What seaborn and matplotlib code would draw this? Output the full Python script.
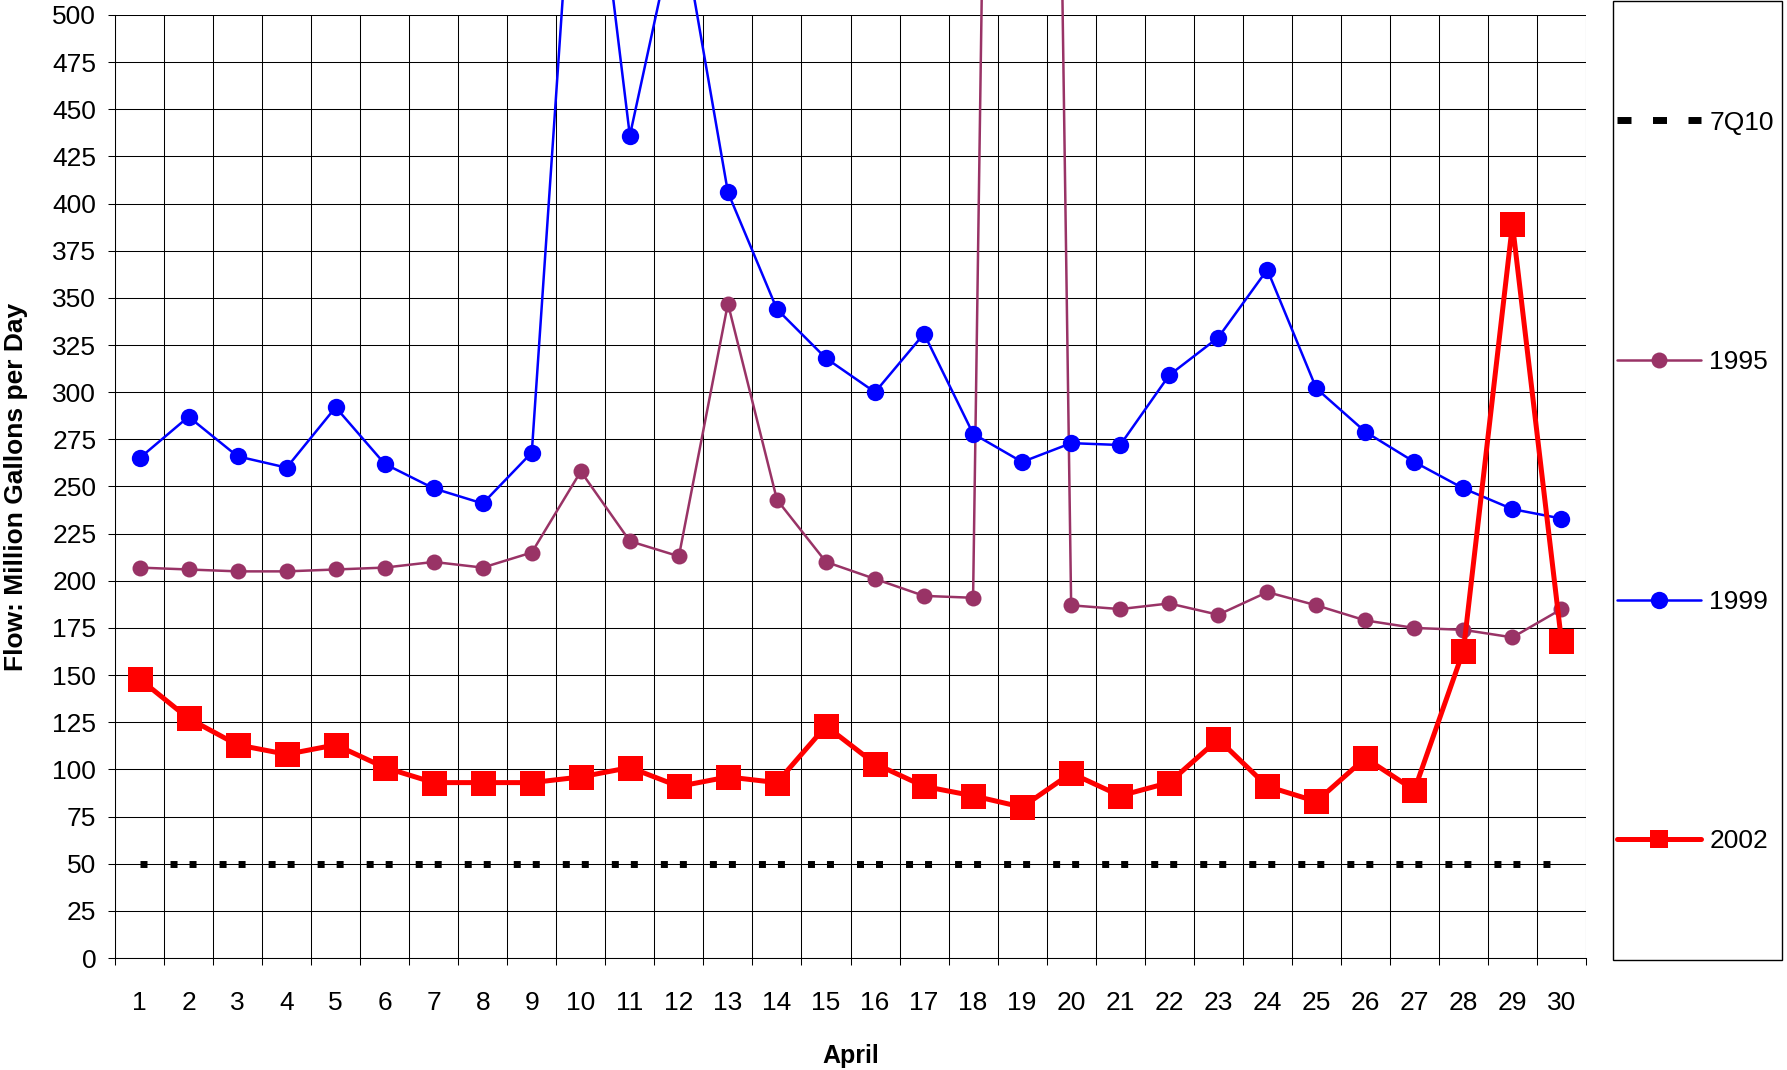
import numpy as np
import pandas as pd
import matplotlib
matplotlib.use("Agg")
import matplotlib.pyplot as plt
import seaborn as sns
from matplotlib.transforms import Bbox, TransformedBbox
from matplotlib.lines import Line2D
from matplotlib.patches import Rectangle

# ---------------- data ----------------
days = list(range(1, 31))
q7_10 = [50] * 30
flow_1995 = [207, 206, 205, 205, 206, 207, 210, 207, 215, 258,
             221, 213, 347, 243, 210, 201, 192, 191, 2000, 187,
             185, 188, 182, 194, 187, 179, 175, 174, 170, 185]
flow_1999 = [265, 287, 266, 260, 292, 262, 249, 241, 268, 650,
             436, 556, 406, 344, 318, 300, 331, 278, 263, 273,
             272, 309, 329, 365, 302, 279, 263, 249, 238, 233]
flow_2002 = [148, 127, 113, 108, 113, 101, 93, 93, 93, 96,
             101, 91, 96, 93, 123, 103, 91, 86, 80, 98,
             86, 93, 116, 91, 83, 106, 89, 163, 389, 168]
y_ticks = list(range(0, 501, 25))
series_names = ["7Q10", "1995", "1999", "2002"]

# ---------------- style ----------------
sns.set_theme(style="white")
plt.rcParams["font.family"] = ["Liberation Sans", "DejaVu Sans"]
plt.rcParams["lines.scale_dashes"] = False

W, H = 1787, 1070
fig = plt.figure(figsize=(W / 100, H / 100), dpi=100)
L, R, T, B = 115, 1586, 15, 958
ax = fig.add_axes([L / W, 1 - B / H, (R - L) / W, (B - T) / H])

df = pd.DataFrame({"day": days, "7Q10": q7_10, "1995": flow_1995,
                   "1999": flow_1999, "2002": flow_2002})

ax.set_xlim(0.5, 30.5)
ax.set_ylim(0, 500)

# 7Q10 dashed line with Excel-like square dot pattern
px2pt = 72.0 / fig.dpi
seg = ax.transData.transform((2, 0))[0] - ax.transData.transform((1, 0))[0]
sq = 7.0
dash = (0, (sq * px2pt, (seg - 26) * px2pt, sq * px2pt, 12 * px2pt))

sns.lineplot(data=df, x="day", y="7Q10", ax=ax, color="black", lw=5,
             linestyle=dash, dash_capstyle="butt", zorder=3)
sns.lineplot(data=df, x="day", y="1995", ax=ax, color="#993366", lw=1.8,
             marker="o", markersize=11.5, markeredgewidth=0, zorder=4)
sns.lineplot(data=df, x="day", y="1999", ax=ax, color="#0000FF", lw=1.8,
             marker="o", markersize=12.5, markeredgewidth=0, zorder=5)
sns.lineplot(data=df, x="day", y="2002", ax=ax, color="#FF0000", lw=3.6,
             marker="s", markersize=18, markeredgewidth=0, zorder=6)

# let data lines run slightly above the 500 gridline, as in the original
clipbb = TransformedBbox(Bbox([[0, 0], [1, 1 + T / (B - T)]]), ax.transAxes)
for ln in ax.get_lines():
    ln.set_clip_path(None)
    ln.set_clip_box(clipbb)

# ---------------- axes ----------------
ax.set_xticks(days)
ax.set_xticklabels([str(d) for d in days])
ax.set_xticks(np.arange(0.5, 31, 1), minor=True)
ax.set_yticks(y_ticks)
ax.set_yticklabels([str(v) for v in y_ticks])

ax.grid(which="minor", axis="x", color="black", lw=0.75)
ax.grid(which="major", axis="y", color="black", lw=0.75)
ax.grid(which="major", axis="x", visible=False)

ax.tick_params(axis="x", which="major", bottom=True, length=0, pad=24,
               labelsize=19, labelcolor="black")
ax.tick_params(axis="x", which="minor", bottom=True, length=5, width=0.75,
               color="black", direction="out")
ax.tick_params(axis="y", which="major", left=True, length=5, width=0.75,
               color="black", direction="out", pad=8.5, labelsize=19,
               labelcolor="black")

for s in ["top", "right"]:
    ax.spines[s].set_visible(False)
for s in ["left", "bottom"]:
    ax.spines[s].set_color("black")
    ax.spines[s].set_linewidth(0.75)

ax.set_xlabel("April", fontsize=18, fontweight="bold", color="black")
ax.xaxis.set_label_coords(0.5, (B - 1044) / (B - T))
ax.set_ylabel("Flow: Million Gallons per Day", fontsize=19,
              fontweight="bold", color="black")
ax.yaxis.set_label_coords((28 - L) / (R - L), (B - 487) / (B - T))

# ---------------- legend ----------------
fig.patches.append(Rectangle((1613 / W, 1 - 960 / H), (1782 - 1613) / W,
                             (960 - 1) / H, transform=fig.transFigure,
                             facecolor="white", edgecolor="black", lw=1,
                             zorder=0))
handles = [
    Line2D([], [], color="black", lw=5,
           dashes=(14 * px2pt, 21.5 * px2pt), dash_capstyle="butt"),
    Line2D([], [], color="#993366", lw=1.8, marker="o", markersize=11.5,
           markeredgewidth=0),
    Line2D([], [], color="#0000FF", lw=1.8, marker="o", markersize=12.5,
           markeredgewidth=0),
    Line2D([], [], color="#FF0000", lw=3.6, marker="s", markersize=13,
           markeredgewidth=0),
]
fig.legend(handles, series_names, loc="center left",
           bbox_to_anchor=(1617 / W, 1 - 482 / H), frameon=False,
           fontsize=19, labelspacing=8.17, handlelength=3.2,
           handletextpad=0.3, borderpad=0, borderaxespad=0,
           labelcolor="black")

fig.savefig("out.png", dpi=100)
